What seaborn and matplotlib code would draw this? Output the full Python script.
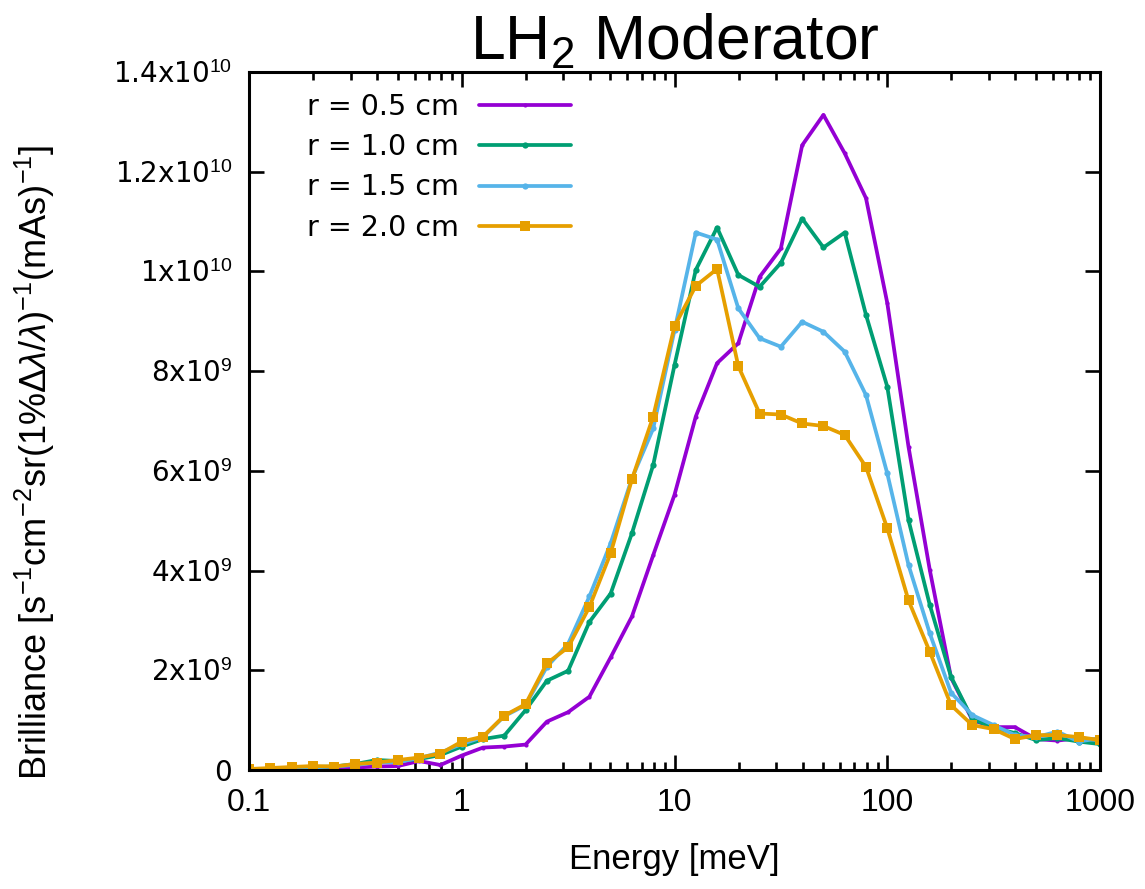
import numpy as np
import pandas as pd
import matplotlib
matplotlib.use("Agg")
import matplotlib.pyplot as plt
import seaborn as sns
from matplotlib import font_manager
from matplotlib.ticker import LogLocator, NullFormatter

# ---------------- data (brilliance in units of 1e9) ----------------
energy = [0.1, 0.1259, 0.1585, 0.1995, 0.2512, 0.3162, 0.3981, 0.5012, 0.631, 0.7943,
          1.0, 1.259, 1.585, 1.995, 2.512, 3.162, 3.981, 5.012, 6.31, 7.943,
          10.0, 12.59, 15.85, 19.95, 25.12, 31.62, 39.81, 50.12, 63.1, 79.43,
          100.0, 125.9, 158.5, 199.5, 251.2, 316.2, 398.1, 501.2, 631.0, 794.3, 1000.0]

r05 = [0.02, 0.02, 0.03, 0.04, 0.04, 0.05, 0.07, 0.08, 0.18, 0.10,
       0.29, 0.45, 0.47, 0.51, 0.97, 1.16, 1.47, 2.26, 3.08, 4.31,
       5.52, 7.09, 8.16, 8.56, 9.89, 10.46, 12.53, 13.14, 12.37, 11.47,
       9.37, 6.48, 4.01, 1.85, 1.00, 0.86, 0.86, 0.62, 0.59, 0.64, 0.60]

r10 = [0.01, 0.02, 0.04, 0.06, 0.07, 0.12, 0.20, 0.18, 0.22, 0.30,
       0.47, 0.62, 0.69, 1.20, 1.79, 1.99, 2.97, 3.54, 4.75, 6.12,
       8.12, 10.03, 10.88, 9.93, 9.69, 10.17, 11.06, 10.48, 10.78, 9.13,
       7.69, 5.01, 3.31, 1.87, 1.02, 0.85, 0.74, 0.60, 0.64, 0.57, 0.52]

r15 = [0.01, 0.02, 0.04, 0.05, 0.07, 0.10, 0.15, 0.16, 0.24, 0.35,
       0.52, 0.66, 1.08, 1.30, 2.07, 2.53, 3.48, 4.55, 5.85, 6.85,
       8.82, 10.78, 10.64, 9.26, 8.66, 8.49, 8.99, 8.79, 8.39, 7.52,
       5.95, 4.11, 2.74, 1.55, 1.10, 0.90, 0.70, 0.66, 0.77, 0.57, 0.64]

r20 = [0.02, 0.04, 0.06, 0.08, 0.07, 0.12, 0.15, 0.20, 0.25, 0.33,
       0.57, 0.67, 1.09, 1.32, 2.14, 2.46, 3.27, 4.35, 5.83, 7.09,
       8.90, 9.71, 10.05, 8.10, 7.15, 7.13, 6.95, 6.90, 6.72, 6.08,
       4.85, 3.40, 2.37, 1.30, 0.90, 0.82, 0.62, 0.70, 0.70, 0.66, 0.60]

series_labels = ["r = 0.5 cm", "r = 1.0 cm", "r = 1.5 cm", "r = 2.0 cm"]
series_values = [r05, r10, r15, r20]

yticks = [0, 2e9, 4e9, 6e9, 8e9, 1e10, 1.2e10, 1.4e10]
ytick_labels = ["0", "2x10$^{9}$", "4x10$^{9}$", "6x10$^{9}$", "8x10$^{9}$",
                "1x10$^{10}$", "1.2x10$^{10}$", "1.4x10$^{10}$"]
xticks = [0.1, 1, 10, 100, 1000]
xtick_labels = ["0.1", "1", "10", "100", "1000"]

colors = ["#9400D3", "#009E73", "#56B4E9", "#E69F00"]
markers = ["o", "o", "o", "s"]
msizes = [3, 4.5, 4.5, 7.5]

# ---------------- fonts ----------------
available = {f.name for f in font_manager.fontManager.ttflist}
narrow = "Liberation Sans Narrow" if "Liberation Sans Narrow" in available else "Liberation Sans"

sns.set_theme(style="ticks")
plt.rcParams["font.family"] = ["DejaVu Sans"]
plt.rcParams["mathtext.fontset"] = "custom"
plt.rcParams["mathtext.rm"] = "Liberation Sans"
plt.rcParams["mathtext.it"] = "Liberation Sans:italic"
plt.rcParams["mathtext.bf"] = "Liberation Sans:bold"

df = pd.DataFrame({"energy": energy * 4,
                   "brilliance": np.concatenate([np.array(v) * 1e9 for v in series_values]),
                   "series": np.repeat(series_labels, len(energy))})

fig = plt.figure(figsize=(11.45, 8.89), dpi=100)
ax = fig.add_axes([249 / 1145, (889 - 770) / 889, 851 / 1145, 698 / 889])

for lab, col, mk, ms in zip(series_labels, colors, markers, msizes):
    sub = df[df["series"] == lab]
    sns.lineplot(data=sub, x="energy", y="brilliance", ax=ax, color=col, linewidth=2.7,
                 marker=mk, markersize=ms, markeredgewidth=0, label=lab, estimator=None,
                 sort=False)

ax.set_xscale("log")
ax.set_xlim(0.1, 1000)
ax.set_ylim(0, 1.4e10)
ax.set_xticks(xticks)
ax.set_xticklabels(xtick_labels, fontfamily=narrow, fontsize=23)
ax.xaxis.set_minor_locator(LogLocator(base=10, subs=np.arange(2, 10), numticks=100))
ax.xaxis.set_minor_formatter(NullFormatter())
ax.set_yticks(yticks)
ax.set_yticklabels(ytick_labels, fontfamily="DejaVu Sans", fontsize=20)

for s in ax.spines.values():
    s.set_visible(True)
    s.set_color("black")
    s.set_linewidth(2.2)

ax.tick_params(axis="both", which="major", direction="in", length=10.5, width=1.9,
               color="black", top=True, right=True)
ax.tick_params(axis="x", which="minor", direction="in", length=5.5, width=1.9,
               color="black", top=True, bottom=True)
ax.tick_params(axis="x", which="major", pad=13, labelcolor="black")
ax.tick_params(axis="y", which="major", pad=12, labelcolor="black")
ax.grid(False)

ax.set_xlabel("Energy [meV]", fontfamily=narrow, fontsize=25, labelpad=18, color="black")
ax.set_ylabel(r"Brilliance [s$^{-1}$cm$^{-2}$sr(1%$\Delta\lambda/\lambda$)$^{-1}$(mAs)$^{-1}$]",
              fontfamily=narrow, fontsize=26, color="black")
ax.yaxis.set_label_coords((57 - 249) / 851, (770 - 462) / 698)
ax.set_title(r"LH$_2$ Moderator", fontfamily="Liberation Sans", fontsize=45, pad=1,
             color="black")

leg = ax.legend(loc="upper left", bbox_to_anchor=((307 - 249) / 851, (770 - 93) / 698),
                frameon=False, fontsize=20.5, markerfirst=False, handlelength=3.25,
                handletextpad=0.7, labelspacing=0.43, borderpad=0, borderaxespad=0)
for t in leg.get_texts():
    t.set_color("black")

fig.savefig("out.png", dpi=100, facecolor="white")
